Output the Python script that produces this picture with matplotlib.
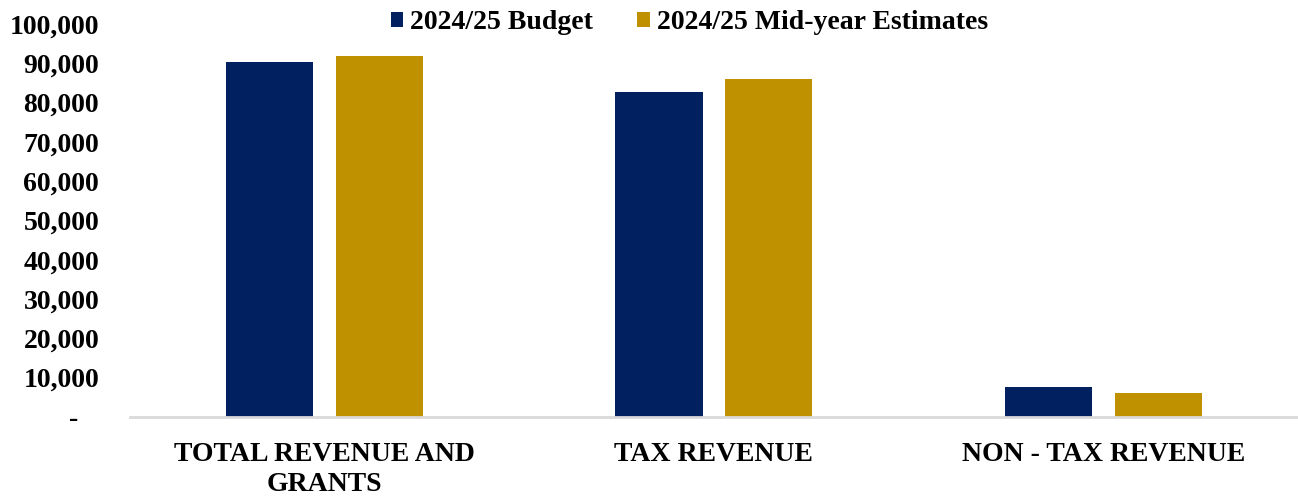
import numpy as np
import matplotlib.pyplot as plt
from matplotlib.ticker import FuncFormatter

categories = ["TOTAL REVENUE AND\nGRANTS", "TAX REVENUE", "NON - TAX REVENUE"]
budget = [90330, 82700, 7630]
midyear = [91950, 85850, 6100]
series_names = ["2024/25 Budget", "2024/25 Mid-year Estimates"]

navy = "#002060"
gold = "#BF9000"

plt.rcParams['font.family'] = ['Liberation Serif', 'DejaVu Serif']
plt.rcParams['font.weight'] = 'bold'

fig = plt.figure(figsize=(12.98, 4.97), dpi=100)
ax = fig.add_axes([0.1, 0.161, 0.9, 0.791])

x = np.arange(len(categories))
w = 0.224
ax.bar(x - 0.141, budget, w, color=navy, label=series_names[0])
ax.bar(x + 0.141, midyear, w, color=gold, label=series_names[1])

ax.set_xlim(-0.5, 2.5)
ax.set_ylim(0, 100000)
ax.set_yticks(np.arange(0, 100001, 10000))


def fmt(v, pos):
    # zero shown as a dash, like an accounting format
    return "-   " if v == 0 else f"{v:,.0f}"


ax.yaxis.set_major_formatter(FuncFormatter(fmt))
ax.set_xticks(x)
ax.set_xticklabels(categories, fontsize=20, fontweight='bold', linespacing=1.25)
for lbl in ax.get_yticklabels():
    lbl.set_fontsize(20)
    lbl.set_fontweight('bold')
ax.tick_params(length=0)
ax.tick_params(axis='x', pad=18)
ax.tick_params(axis='y', pad=22)

for s in ['top', 'right', 'left']:
    ax.spines[s].set_visible(False)
ax.spines['bottom'].set_color('#d9d9d9')
ax.spines['bottom'].set_linewidth(2)

leg = fig.legend(loc='upper center', bbox_to_anchor=(0.531, 1.03), ncol=2, frameon=False,
                 prop={'size': 20, 'weight': 'bold'}, handlelength=0.45, handleheight=0.45,
                 handletextpad=0.25, columnspacing=1.6)

fig.savefig("out.png", dpi=100)
